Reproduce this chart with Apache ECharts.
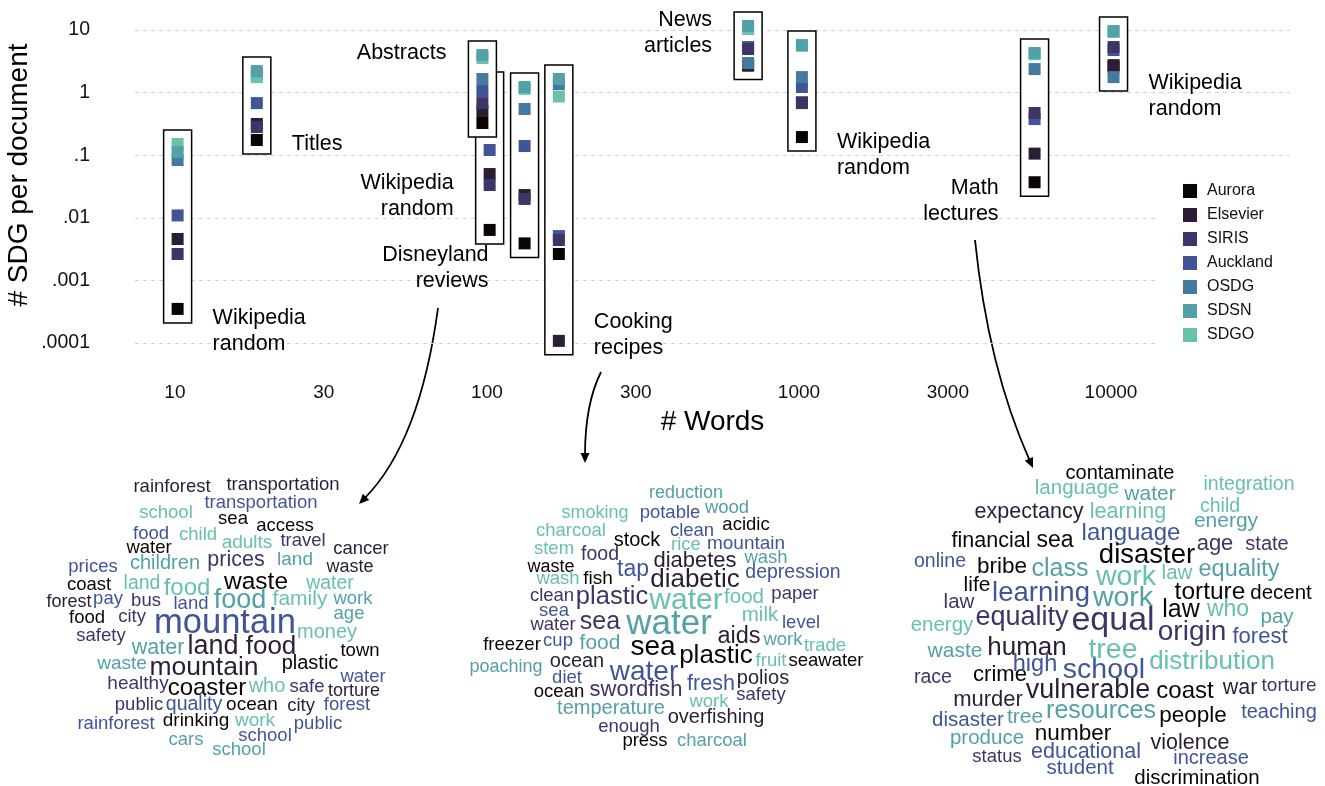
<!DOCTYPE html>
<html>
<head>
<meta charset="utf-8">
<script src="https://cdn.jsdelivr.net/npm/echarts@6/dist/echarts.min.js"></script>
<style>
  html, body { margin: 0; padding: 0; background: #fff; }
  #main { width: 1325px; height: 786px; }
</style>
</head>
<body>
<div id="main"></div>
<script>
// methods, legend order
const methods = ['Aurora', 'Elsevier', 'SIRIS', 'Auckland', 'OSDG', 'SDSN', 'SDGO'];
const methodColors = ['#0b0405', '#2b1d36', '#3d3468', '#3f5597', '#4479a0', '#52a0a8', '#68c1ab'];
// squares are painted in alphabetical order: Auckland, Aurora, Elsevier, OSDG, SDGO, SDSN, SIRIS
const paintOrder = [3, 0, 1, 4, 6, 5, 2];

// document collections (drawn in this order, later ones cover earlier ones)
const corpora = ['Wikipedia\nrandom', 'Titles', 'Wikipedia\nrandom', 'Abstracts', 'Disneyland\nreviews',
  'Cooking\nrecipes', 'News\narticles', 'Wikipedia\nrandom', 'Math\nlectures', 'Wikipedia\nrandom'];
const wordsPerDoc = [10.2, 18.3, 102, 96.7, 132, 170, 687, 1022, 5690, 10190];

// # SDG per document, one list per method
const aurora   = [0.00035, 0.175, 0.0064, 0.327, 0.0039, 0.00264, 2.7, 0.195, 0.037, 2.6];
const elsevier = [0.00458, 0.315, 0.050, 0.508, 0.0231, 0.000108, 2.75, 0.7, 0.106, 2.75];
const siris    = [0.00264, 0.282, 0.0334, 0.68, 0.0200, 0.00442, 4.97, 0.68, 0.472, 5.35];
const auckland = [0.0109, 0.68, 0.121, 1.06, 0.140, 0.0051, 5.35, 1.23, 0.378, 4.79];
const osdg     = [0.0838, 2.0, 0.55, 1.65, 0.547, 1.37, 2.97, 1.77, 2.38, 1.77];
const sdsn     = [0.1125, 2.21, 1.27, 3.98, 1.23, 1.65, 11.6, 5.75, 4.3, 9.64];
const sdgo     = [0.151, 1.77, 0.9, 3.57, 1.15, 0.867, 10.4, 5.6, 4.1, 9.3];
const byMethod = [aurora, elsevier, siris, auckland, osdg, sdsn, sdgo];

// where each collection's caption sits
const captionSide = ['right', 'right', 'left', 'left', 'left', 'right', 'left', 'right', 'left', 'right'];
const captionAt = [0.000155, 0.151, 0.0219, 4.3, 0.00155, 0.000134, 8.95, 0.1, 0.0182, 0.883];

const xTicks = [10, 30, 100, 300, 1000, 3000, 10000];
const yTicks = [0.0001, 0.001, 0.01, 0.1, 1, 10];

// word clouds: [word, weight, method group]
const disneyWords = [
  ['rainforest', 18.5, 1], ['transportation', 18.5, 1], ['transportation', 18.5, 3], ['school', 18.5, 6],
  ['sea', 18.5, 0], ['access', 18.5, 0], ['food', 18.5, 3], ['child', 18.5, 6], ['adults', 19, 6],
  ['travel', 18.5, 2], ['cancer', 18.5, 1], ['water', 18.5, 0], ['children', 20, 5], ['prices', 21.5, 2],
  ['land', 19, 5], ['waste', 18, 1], ['prices', 18.5, 3], ['coast', 18.5, 0], ['land', 19.5, 6],
  ['food', 24, 6], ['waste', 24.5, 0], ['water', 19.5, 6], ['forest', 18, 1], ['pay', 18.5, 3],
  ['bus', 18.5, 2], ['land', 18.5, 3], ['food', 27, 5], ['family', 21, 6], ['work', 18.5, 5],
  ['food', 18.5, 0], ['city', 18.5, 2], ['mountain', 34.5, 3], ['age', 18.5, 5], ['money', 20, 6],
  ['safety', 18.5, 2], ['water', 21.5, 5], ['land', 27, 1], ['food', 26, 1], ['town', 18.5, 0],
  ['waste', 19, 5], ['mountain', 26.5, 1], ['plastic', 20, 0], ['water', 18.5, 3], ['healthy', 19, 2],
  ['coaster', 24, 0], ['who', 20, 6], ['safe', 18.5, 2], ['torture', 18, 1], ['public', 18.5, 2],
  ['quality', 19.5, 3], ['ocean', 19, 0], ['city', 18.5, 1], ['forest', 18.5, 3], ['rainforest', 18.5, 3],
  ['drinking', 19, 0], ['work', 19, 6], ['public', 18.5, 3], ['cars', 18.5, 5], ['school', 18.5, 3],
  ['school', 18.5, 5]
];
const disneySpots = [
  [172, 487], [283, 485], [261, 503], [166, 513],
  [233, 519], [285, 526], [151, 534], [198, 535], [247, 543],
  [303, 541], [361, 549], [149, 548], [165, 563], [236, 560],
  [295, 560], [350, 567], [93, 567], [89, 585], [142, 584],
  [187, 588], [256, 582], [330, 584], [69, 602], [108, 599],
  [146, 601], [191, 604], [240, 601], [300, 599], [353, 599],
  [87, 618], [132, 617], [225, 623], [349, 614], [327, 632],
  [101, 636], [158, 648], [213, 647], [271, 647], [360, 651],
  [122, 664], [204, 668], [310, 663], [363, 677], [138, 684],
  [207, 688], [267, 686], [307, 687], [354, 691], [139, 705],
  [194, 705], [252, 705], [301, 706], [347, 705], [116, 724],
  [196, 721], [255, 721], [318, 724], [186, 740], [265, 736],
  [239, 750]
];

const cookingWords = [
  ['reduction', 18, 5], ['smoking', 18, 6], ['potable', 18.5, 3], ['wood', 18.5, 5], ['charcoal', 18.5, 6],
  ['clean', 18.5, 3], ['acidic', 18.5, 0], ['stock', 20, 0], ['stem', 18.5, 6], ['rice', 18.5, 6],
  ['mountain', 19, 3], ['food', 19.5, 2], ['diabetes', 22, 1], ['wash', 18.5, 5], ['waste', 18, 0],
  ['tap', 23, 3], ['depression', 19.5, 3], ['wash', 18.5, 6], ['fish', 19, 0], ['diabetic', 26, 1],
  ['clean', 18.5, 2], ['plastic', 25.5, 2], ['water', 30, 6], ['food', 20.5, 6], ['paper', 18.5, 2],
  ['sea', 18.5, 3], ['milk', 20.5, 6], ['water', 18.5, 2], ['sea', 25, 2], ['water', 35, 5],
  ['level', 18.5, 3], ['aids', 23.5, 1], ['work', 18.5, 5], ['trade', 18.5, 6], ['freezer', 18.5, 0],
  ['cup', 18.5, 3], ['food', 21, 5], ['sea', 28, 0], ['plastic', 26, 0], ['fruit', 18.5, 6],
  ['seawater', 18.5, 0], ['poaching', 18, 5], ['ocean', 20, 1], ['water', 28, 3], ['diet', 18.5, 3],
  ['ocean', 18.5, 0], ['swordfish', 22, 2], ['fresh', 21.5, 3], ['polios', 20, 1], ['safety', 18.5, 2],
  ['work', 18.5, 6], ['temperature', 20, 5], ['overfishing', 20, 1], ['enough', 18.5, 2], ['press', 18.5, 0],
  ['charcoal', 18.5, 5]
];
const cookingSpots = [
  [686, 493], [595, 513], [670, 513], [727, 508], [571, 531],
  [692, 531], [746, 525], [637, 540], [554, 549], [686, 545],
  [746, 544], [600, 555], [695, 561], [766, 558], [551, 567],
  [633, 570], [793, 573], [558, 579], [598, 579], [695, 580],
  [552, 596], [612, 597], [686, 601], [744, 597], [795, 594],
  [554, 611], [760, 615], [553, 625], [600, 622], [669, 624],
  [801, 623], [739, 637], [783, 640], [825, 646], [512, 645],
  [558, 641], [600, 643], [653, 647], [716, 656], [771, 661],
  [826, 661], [506, 667], [577, 661], [644, 672], [567, 678],
  [559, 692], [636, 690], [711, 684], [763, 678], [761, 695],
  [709, 702], [611, 708], [716, 717], [629, 727], [645, 741],
  [712, 741]
];

const mathWords = [
  ['contaminate', 20, 0], ['language', 20.5, 6], ['water', 21, 5], ['integration', 19.5, 6], ['child', 19.5, 6],
  ['expectancy', 21.5, 1], ['learning', 21.5, 6], ['energy', 21, 5], ['language', 24, 3], ['financial', 21.5, 0],
  ['sea', 23, 0], ['age', 22, 2], ['state', 20, 2], ['disaster', 27.5, 0], ['online', 19.5, 3],
  ['bribe', 22.5, 0], ['class', 25, 5], ['work', 28.5, 6], ['law', 20.5, 6], ['equality', 23.5, 5],
  ['life', 21, 0], ['learning', 27.5, 3], ['work', 28.5, 5], ['torture', 24.5, 0], ['decent', 20.5, 0],
  ['law', 20.5, 2], ['law', 25, 0], ['who', 23, 6], ['pay', 20.5, 5], ['energy', 20.5, 6],
  ['equality', 27, 2], ['equal', 34, 2], ['origin', 28, 2], ['forest', 22, 3], ['waste', 21, 5],
  ['human', 26, 1], ['tree', 28.5, 6], ['distribution', 26, 6], ['race', 19.5, 2], ['crime', 22, 0],
  ['high', 23.5, 3], ['school', 28.5, 3], ['murder', 22, 1], ['vulnerable', 27, 1], ['coast', 24, 0],
  ['war', 21.5, 1], ['torture', 19, 2], ['disaster', 20.5, 3], ['tree', 21, 5], ['resources', 25, 5],
  ['people', 22.5, 0], ['teaching', 20, 3], ['produce', 20.5, 5], ['number', 22.5, 0], ['violence', 21.5, 1],
  ['status', 18.5, 2], ['educational', 21.5, 3], ['increase', 20, 3], ['student', 20.5, 3], ['discrimination', 20.5, 0]
];
const mathSpots = [
  [1120, 473], [1077, 488], [1150, 494], [1249, 485], [1220, 507],
  [1029, 512], [1128, 512], [1226, 521], [1131, 533], [991, 541],
  [1055, 541], [1215, 544], [1267, 544], [1147, 555], [940, 562],
  [1002, 567], [1060, 569], [1126, 577], [1177, 573], [1239, 570],
  [977, 585], [1041, 593], [1123, 598], [1210, 592], [1281, 593],
  [959, 602], [1181, 610], [1228, 610], [1277, 617], [942, 625],
  [1022, 618], [1113, 621], [1192, 632], [1260, 637], [955, 651],
  [1027, 648], [1113, 650], [1212, 662], [933, 678], [1000, 675],
  [1035, 665], [1104, 670], [988, 700], [1088, 691], [1185, 691],
  [1240, 688], [1289, 686], [968, 720], [1025, 717], [1101, 711],
  [1193, 716], [1279, 712], [987, 738], [1073, 734], [1190, 743],
  [997, 757], [1086, 752], [1211, 758], [1080, 768], [1197, 778]
];

// curved pointers from captions to clouds: start, control, end
const pointers = [
  [438, 308, 420, 442, 359, 504],
  [601, 372, 585, 404, 585, 463],
  [975, 240, 988, 367, 1033, 468]
];

const FONT = '"Liberation Sans", Arial, Helvetica, sans-serif';
const log10 = Math.log10;

const chart = echarts.init(document.getElementById('main'));

const boxRows = corpora.map((c, i) => [log10(wordsPerDoc[i])]
  .concat(byMethod.map(arr => log10(arr[i])))
  .concat([log10(captionAt[i])]));

function renderCollection(params, api) {
  const i = params.dataIndex;
  const xv = api.value(0);
  const cx = api.coord([xv, 0])[0];
  const ys = [];
  for (let m = 0; m < 7; m++) ys.push(api.coord([xv, api.value(m + 1)])[1]);
  const top = Math.min.apply(null, ys) - 14;
  const bottom = Math.max.apply(null, ys) + 14;
  const children = [{
    type: 'rect',
    shape: { x: cx - 14, y: top, width: 28, height: bottom - top },
    style: { fill: '#fff', stroke: '#000', lineWidth: 1.5 }
  }];
  paintOrder.forEach(m => {
    children.push({
      type: 'rect',
      shape: { x: cx - 6, y: ys[m] - 6, width: 12, height: 12 },
      style: { fill: methodColors[m] }
    });
  });
  const ly = api.coord([xv, api.value(8)])[1];
  const right = captionSide[i] === 'right';
  children.push({
    type: 'text',
    x: right ? cx + 35 : cx - 36,
    y: ly,
    style: {
      text: corpora[i], fill: '#000', fontSize: 21.5, fontFamily: FONT,
      align: right ? 'left' : 'right', verticalAlign: 'middle', lineHeight: 26
    }
  });
  return { type: 'group', children: children };
}

function cloudSeries(name, words, spots) {
  return {
    name: name,
    type: 'scatter',
    xAxisIndex: 1,
    yAxisIndex: 1,
    silent: true,
    symbolSize: 1,
    itemStyle: { color: 'transparent', opacity: 1 },
    label: { show: true, position: 'inside', formatter: '{b}', fontFamily: FONT, opacity: 1 },
    emphasis: { disabled: true },
    data: words.map((w, k) => ({
      name: w[0],
      value: spots[k],
      label: { fontSize: w[1], color: methodColors[w[2]] }
    }))
  };
}

// arrows and y title as plain graphics
const graphics = [{
  type: 'text',
  x: 19, y: 175,
  rotation: Math.PI / 2,
  style: {
    text: '# SDG per document', fill: '#000', fontSize: 28, fontFamily: FONT,
    align: 'center', verticalAlign: 'middle'
  }
}];
pointers.forEach(p => {
  const [x1, y1, cx, cy, x2, y2] = p;
  let dx = x2 - cx, dy = y2 - cy;
  const len = Math.sqrt(dx * dx + dy * dy);
  dx /= len; dy /= len;
  const bx = x2 - dx * 10, by = y2 - dy * 10;
  graphics.push({
    type: 'bezierCurve',
    shape: { x1: x1, y1: y1, cpx1: cx, cpy1: cy, x2: bx + dx * 2, y2: by + dy * 2 },
    style: { stroke: '#000', lineWidth: 1.8, fill: null }
  });
  graphics.push({
    type: 'polygon',
    shape: { points: [[x2, y2], [bx - dy * 4.5, by + dx * 4.5], [bx + dy * 4.5, by - dx * 4.5]] },
    style: { fill: '#000' }
  });
});

const option = {
  animation: false,
  backgroundColor: '#fff',
  textStyle: { fontFamily: FONT },
  grid: [
    { left: 135, right: 35, top: 5, height: 363 },
    { left: 0, top: 0, width: 1325, height: 786 }
  ],
  xAxis: [{
    type: 'value',
    min: 0.872, max: 4.5737,
    axisLine: { show: false },
    axisTick: { show: false, customValues: xTicks.map(log10) },
    splitLine: { show: false },
    axisLabel: {
      customValues: xTicks.map(log10),
      formatter: v => String(Math.round(Math.pow(10, v))),
      fontSize: 19, color: '#111', margin: 15, fontFamily: FONT
    },
    name: '# Words', nameLocation: 'middle', nameGap: 40,
    nameTextStyle: { fontSize: 28, color: '#000', fontFamily: FONT }
  }, {
    type: 'value', gridIndex: 1, min: 0, max: 1325, show: false
  }],
  yAxis: [{
    type: 'value',
    min: -4.4, max: 1.4,
    axisLine: { show: false },
    axisTick: { show: false, customValues: yTicks.map(log10) },
    splitLine: { show: true, lineStyle: { color: '#d4d4d4', width: 1.2, type: [4, 4] } },
    axisLabel: {
      customValues: yTicks.map(log10),
      formatter: v => {
        const e = Math.round(v);
        return e >= 0 ? String(Math.pow(10, e)) : '.' + '0'.repeat(-e - 1) + '1';
      },
      fontSize: 19.5, color: '#111', margin: 45, fontFamily: FONT
    }
  }, {
    type: 'value', gridIndex: 1, min: 0, max: 786, inverse: true, show: false
  }],
  legend: {
    orient: 'vertical',
    left: 1158, top: 175,
    padding: [8, 20, 4, 25],
    backgroundColor: '#fff',
    icon: 'rect',
    itemWidth: 14, itemHeight: 14, itemGap: 8,
    selectedMode: false,
    textStyle: { fontSize: 16, color: '#111', padding: [0, 0, 0, 5], fontFamily: FONT },
    data: methods
  },
  series: methods.map((m, k) => ({
    name: m, type: 'scatter', data: [], itemStyle: { color: methodColors[k], opacity: 1 }
  })).concat([{
    type: 'custom',
    name: 'collections',
    renderItem: renderCollection,
    encode: { x: 0, y: 1 },
    silent: true,
    z: 3,
    data: boxRows
  },
  cloudSeries('disney', disneyWords, disneySpots),
  cloudSeries('cooking', cookingWords, cookingSpots),
  cloudSeries('math', mathWords, mathSpots)
  ]),
  graphic: graphics
};

chart.setOption(option);
</script>
</body>
</html>
